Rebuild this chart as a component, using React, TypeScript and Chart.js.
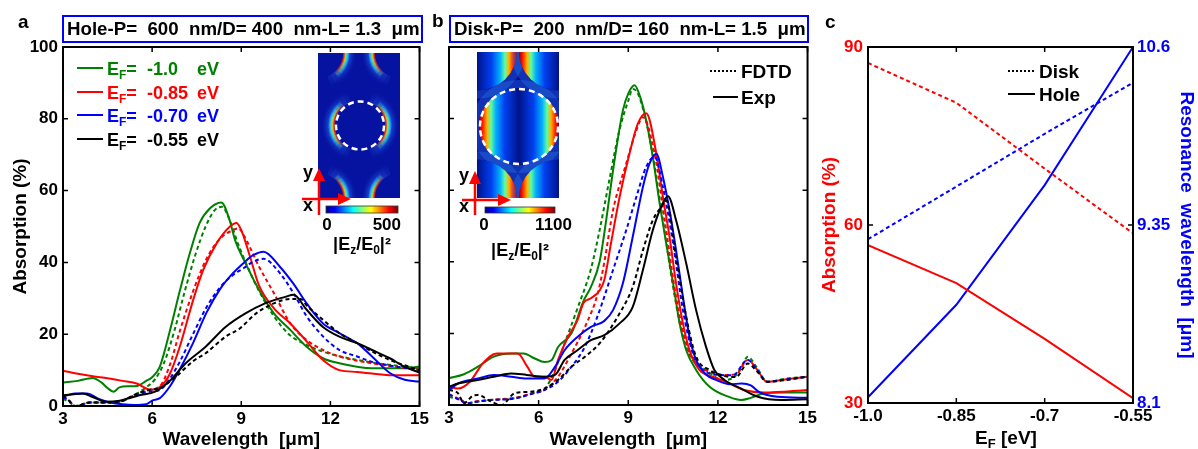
import React, { useEffect, useRef } from 'react';
import { Chart, registerables } from 'chart.js';
Chart.register(...registerables);

const FONT = "'Liberation Sans', Arial, Helvetica, sans-serif";
const GREEN = 'rgb(0,128,0)';
const RED = 'rgb(255,0,0)';
const BLUE = 'rgb(0,0,255)';
const BLACK = 'rgb(0,0,0)';

// ---------- shared ticks ----------
const WL_TICKS = [3, 6, 9, 12, 15];
const ABS_TICKS = [0, 20, 40, 60, 80, 100];

// ---------- panel a : hole array (Exp solid, FDTD dashed) ----------
const A_EXP_100 = [[3,6.5],[3.5,7],[4,7.8],[4.3,6.5],[4.5,5],[4.7,4],[4.9,5.2],[5.2,5.5],[5.5,5.6],[5.8,7],[6.0,8],[6.26,11],[6.6,21],[6.93,32],[7.27,42.6],[7.6,51],[7.94,55],[8.33,56.7],[8.6,52],[8.8,46],[9.1,40.5],[9.6,32.3],[10.1,25.8],[10.65,21.2],[11.2,16.5],[11.75,13.3],[12.3,11.9],[13.4,10.5],[14.5,10.5],[15,11]];
const A_FDTD_100 = [[3,2],[3.2,1.2],[3.4,0],[3.6,0.3],[3.9,1],[4.5,1],[4.9,1.2],[5.45,3.3],[5.8,5.2],[6.1,7.5],[6.4,12],[6.75,21],[7.1,32],[7.45,42],[7.8,50],[8.1,54.5],[8.35,55.5],[8.6,52],[8.9,45],[9.2,39],[9.6,32],[10.1,25],[10.6,20],[11.2,17],[11.8,15],[12.5,13.5],[13.5,12],[14.5,11],[15,10.5]];
const A_EXP_085 = [[3,9.8],[3.5,9],[4,8.3],[4.5,7.7],[5,7],[5.5,6.2],[5.95,4.5],[6.25,5.2],[6.6,9],[6.93,16.5],[7.38,29.5],[7.72,37.9],[8.17,45.3],[8.62,50],[8.84,51],[9.0,49],[9.28,42],[9.6,33.5],[10.1,27.2],[10.65,23],[11.2,18],[11.75,12.8],[12.3,10],[12.9,9.5],[14,8.6],[15,8.6]];
const A_FDTD_085 = [[3,2.5],[3.2,1.5],[3.4,0],[3.6,0.3],[3.9,1],[4.5,1],[4.9,1.2],[5.45,3],[5.9,4.5],[6.26,5.5],[6.6,11.5],[6.93,20.8],[7.38,32],[7.83,41],[8.28,46.6],[8.72,49],[8.9,49.5],[9.17,46.2],[9.6,38.8],[10.1,31.4],[10.65,23],[11.2,18.4],[11.75,15.6],[12.3,13.8],[13.4,11.9],[15,10]];
const A_EXP_070 = [[3,2.6],[3.4,3.5],[3.8,3.5],[4.2,2],[4.6,1],[5,0.5],[5.4,0.3],[5.8,0.5],[6.0,1.5],[6.26,2.2],[6.6,5.5],[6.93,10.2],[7.38,17.6],[7.83,26],[8.28,32.5],[8.72,37],[9.1,40],[9.4,42],[9.75,43],[10.3,38.8],[10.76,34],[11.2,28.6],[11.75,23],[12.3,20.3],[12.9,17.5],[13.4,13.8],[14,9.2],[14.5,7.3],[15,6.8]];
const A_FDTD_070 = [[3,2.5],[3.2,1.5],[3.4,0],[3.6,0.3],[3.9,1],[4.5,1],[4.9,1.2],[5.45,3],[5.9,4],[6.26,4.5],[6.6,7.7],[6.93,12.3],[7.38,20.1],[7.83,27.5],[8.28,33],[8.72,36.5],[9.1,38.5],[9.4,40.2],[9.75,41],[10.3,37],[10.76,31.4],[11.2,25],[11.75,19.4],[12.3,15.6],[12.9,13.8],[13.4,12.3],[15,10]];
const A_EXP_055 = [[3,3],[3.3,3.2],[3.67,3.5],[4.0,2.5],[4.45,1.2],[4.9,1.5],[5.57,3],[6.1,4],[6.57,6.8],[7.13,11.9],[7.8,16.5],[8.47,22],[9.14,25.8],[9.8,28.6],[10.48,30.4],[10.76,31],[11.2,26.8],[11.75,22],[12.3,19.3],[12.9,17.5],[13.4,15.6],[14,13.3],[14.5,10.9],[15,9.3]];
const A_FDTD_055 = [[3,3],[3.2,1.5],[3.4,0],[3.6,0.3],[3.9,1],[4.5,1],[4.9,1.2],[5.45,3.3],[5.9,4.5],[6.26,5],[6.8,8.2],[7.38,12.5],[7.8,14.7],[8.47,19.3],[8.95,21.6],[9.5,25.8],[10.1,28.6],[10.65,29.8],[11.0,29.8],[11.2,28],[11.75,24],[12.3,20.3],[12.9,17.5],[13.4,15.2],[14,12.8],[15,10]];

// ---------- panel b : disk array ----------
const B_EXP_100 = [[3,7.5],[3.5,8.6],[3.97,10.7],[4.5,13.5],[5.08,14.4],[5.5,14.4],[5.87,13],[6.2,12],[6.43,12.5],[6.65,16.2],[7.1,20],[7.5,29],[7.75,33],[8.04,40],[8.26,51.6],[8.49,65.5],[8.82,82.3],[9.0,87],[9.21,89.3],[9.4,86],[9.6,79.5],[9.82,69.3],[10.05,56.3],[10.27,45.1],[10.5,34],[10.72,22.8],[10.94,15.3],[11.27,9.8],[11.72,5.1],[12.39,2.2],[12.78,1.4],[13.1,2],[13.56,3.3],[14.2,3.5],[15,3.5]];
const B_FDTD_100 = [[3,2.3],[3.4,1.4],[3.6,0.5],[3.9,0.9],[4.5,1.5],[5.2,1.9],[5.8,3.3],[6.2,4.5],[6.55,9.8],[6.87,17.2],[7.3,27],[7.75,38],[8.04,48.8],[8.37,63],[8.71,77],[9.0,85],[9.15,88.3],[9.35,86.5],[9.71,74.8],[10.16,51.6],[10.5,33],[10.83,19],[11.16,12.6],[11.6,9.8],[12.16,7],[12.5,7.5],[12.75,10],[13.0,13.5],[13.3,10.5],[13.65,6.5],[14.3,7.4],[15,7.9]];
const B_EXP_085 = [[3,5.1],[3.3,4.6],[3.7,6.5],[4.13,11.6],[4.6,14.4],[5.08,14.4],[5.3,14.4],[5.62,10.7],[5.87,7.9],[6.2,7.9],[6.43,7],[6.65,12.6],[6.98,19],[7.3,23.7],[7.5,28.5],[7.75,29.8],[8.04,32],[8.2,35],[8.42,45.1],[8.71,58.1],[9.04,70.2],[9.32,78.6],[9.6,81.5],[9.94,70.2],[10.16,58.1],[10.38,47],[10.6,34],[10.83,22.8],[11.05,15.3],[11.38,9.8],[11.83,7.9],[12.39,6],[12.88,4.2],[13.56,3.5],[15,4.2]];
const B_FDTD_085 = [[3,3],[3.4,1.4],[3.6,0.5],[3.9,1],[4.5,1.5],[5.2,2],[5.8,3.3],[6.2,4.2],[6.65,7.9],[7.1,14.4],[7.55,21.8],[7.98,31.2],[8.2,40],[8.49,54.4],[8.93,67.4],[9.27,76.7],[9.49,80.4],[9.88,70.2],[10.27,48.8],[10.6,30.2],[10.94,17.2],[11.27,11.6],[11.72,9.3],[12.27,8.4],[12.6,8.5],[13.0,12.6],[13.3,10],[13.65,6.5],[14.3,7.2],[15,7.9]];
const B_EXP_070 = [[3,4.2],[3.3,6],[3.97,7.4],[4.5,8.4],[5.08,7.9],[5.6,7.4],[6.2,7.4],[6.55,10.7],[6.87,15.3],[7.3,19],[7.75,21.8],[8.2,23.5],[8.49,26.5],[8.82,34],[9.15,47],[9.49,60.9],[9.71,67.4],[9.94,70.2],[10.16,63.7],[10.38,54.4],[10.6,43.2],[10.83,30.2],[11.05,19],[11.27,12.6],[11.6,8.5],[11.94,7],[12.4,5.8],[12.8,6],[13.1,5.5],[13.4,3.5],[14,2.3],[15,2]];
const B_FDTD_070 = [[3,3],[3.4,1.2],[3.6,0.4],[3.9,0.9],[4.5,1.4],[5.2,1.8],[5.8,3.2],[6.2,4.2],[6.65,6.5],[7.1,10.7],[7.55,16.3],[7.98,25],[8.49,37.7],[8.93,48.8],[9.27,58.1],[9.6,66.5],[9.88,69.3],[10.16,60.9],[10.5,45.1],[10.83,26.5],[11.16,14.4],[11.5,9.8],[12.05,8.4],[12.5,8.3],[13.0,12.6],[13.3,10],[13.65,6.5],[14.3,7.2],[15,7.9]];
const B_EXP_055 = [[3,5.1],[3.3,6],[3.97,7],[4.5,7.9],[5.08,8.8],[5.6,8.4],[6.2,7.9],[6.55,8.4],[6.87,12.6],[7.3,15.3],[7.75,18.1],[8.2,19.5],[8.71,22.8],[9.15,27.4],[9.49,37.7],[9.82,48.8],[10.1,55.3],[10.33,58.3],[10.6,51.6],[10.94,39.5],[11.27,26.5],[11.6,16.3],[11.88,9.8],[12.22,7],[12.78,4.6],[13.34,2.3],[14.12,1.4],[15,1.6]];
const B_FDTD_055 = [[3,4.2],[3.3,3.3],[3.5,0.5],[3.8,2.6],[3.97,2.8],[4.4,1],[4.75,0],[5.2,3.3],[5.7,3.7],[6.2,4.6],[6.65,7],[7.1,10.7],[7.55,13.5],[8.04,17.2],[8.71,25.6],[9.15,33],[9.49,43.2],[9.82,51.6],[10.1,55.3],[10.27,57.2],[10.6,41.4],[10.94,24.6],[11.27,13.5],[11.72,9.8],[12.27,8],[12.6,7.8],[13.0,11.6],[13.3,9.5],[13.65,6.5],[14.3,7],[15,7.9]];

// ---------- panel c ----------
const EF_VALUES = [-1.0, -0.85, -0.7, -0.55];
const EF_TICK_LABELS = ['-1.0', '-0.85', '-0.7', '-0.55'];
const HOLE_ABS = [56.6, 50.2, 40.8, 30.8];
const DISK_ABS = [87.3, 80.6, 69.5, 58.6];
const HOLE_RES = [8.14, 8.79, 9.63, 10.6];
const DISK_RES = [9.25, 9.62, 9.99, 10.35];
const C_ABS_TICKS = [30, 60, 90];
const C_RES_TICKS = [8.1, 9.35, 10.6];

const LEGEND_A_VALUES = ['-1.0', '-0.85', '-0.70', '-0.55'];
const LEGEND_A_COLORS = [GREEN, RED, BLUE, BLACK];

// ---------- helpers ----------
const bold = (s: number) => `bold ${s}px ${FONT}`;

function drawRich(ctx: any, x: number, y: number, parts: any[], size: number, color: string, align = 'left') {
  const small = Math.round(size * 0.66);
  let total = 0;
  for (const p of parts) {
    ctx.font = bold(p[1] ? small : size);
    total += ctx.measureText(p[0]).width;
  }
  let cx = align === 'center' ? x - total / 2 : align === 'right' ? x - total : x;
  ctx.fillStyle = color;
  ctx.textAlign = 'left';
  ctx.textBaseline = 'alphabetic';
  for (const p of parts) {
    ctx.font = bold(p[1] ? small : size);
    ctx.fillText(p[0], cx, p[1] ? y + size * 0.22 : y);
    cx += ctx.measureText(p[0]).width;
  }
}

function drawFrame(chart: any, xTicks: number[], yTicks: number[], y2Ticks?: number[]) {
  const { ctx, chartArea } = chart;
  const { left, right, top, bottom } = chartArea;
  const xs = chart.scales.x;
  const ys = chart.scales.y;
  ctx.save();
  ctx.strokeStyle = '#000';
  ctx.lineWidth = 1.5;
  const L = 5;
  ctx.beginPath();
  for (const t of xTicks) {
    const px = xs.getPixelForValue(t);
    ctx.moveTo(px, bottom); ctx.lineTo(px, bottom - L);
    ctx.moveTo(px, top); ctx.lineTo(px, top + L);
  }
  for (const t of yTicks) {
    const py = ys.getPixelForValue(t);
    ctx.moveTo(left, py); ctx.lineTo(left + L, py);
    if (!y2Ticks) { ctx.moveTo(right, py); ctx.lineTo(right - L, py); }
  }
  if (y2Ticks) {
    const y2 = chart.scales.y2;
    for (const t of y2Ticks) {
      const py = y2.getPixelForValue(t);
      ctx.moveTo(right, py); ctx.lineTo(right - L, py);
    }
  }
  ctx.stroke();
  ctx.lineWidth = 2;
  ctx.strokeRect(left, top, right - left, bottom - top);
  ctx.restore();
}

function jetGradient(ctx: any, x0: number, x1: number) {
  const g = ctx.createLinearGradient(x0, 0, x1, 0);
  g.addColorStop(0, '#00008f');
  g.addColorStop(0.125, '#0000ff');
  g.addColorStop(0.375, '#00ffff');
  g.addColorStop(0.625, '#ffff00');
  g.addColorStop(0.875, '#ff0000');
  g.addColorStop(1, '#800000');
  return g;
}

function drawColorbarAndAxes(ctx: any, ox: number, bar: number[], maxLabel: string, maxRight: number, zeroX: number, labelY: number, arrow: any) {
  const [bx0, by0, bx1, by1] = bar.map((v, i) => (i % 2 === 0 ? v - ox : v));
  ctx.fillStyle = jetGradient(ctx, bx0, bx1);
  ctx.fillRect(bx0, by0, bx1 - bx0, by1 - by0);
  ctx.strokeStyle = '#333';
  ctx.lineWidth = 0.8;
  ctx.strokeRect(bx0, by0, bx1 - bx0, by1 - by0);
  ctx.fillStyle = '#000';
  ctx.font = bold(17);
  ctx.textBaseline = 'alphabetic';
  ctx.textAlign = 'center';
  ctx.fillText('0', zeroX - ox, 230);
  ctx.textAlign = 'right';
  ctx.fillText(maxLabel, maxRight - ox, 230);
  const cx = (bx0 + bx1) / 2;
  drawRich(ctx, cx, labelY, [['|E', 0], ['z', 1], ['/E', 0], ['0', 1], ['|²', 0]], 18, '#000', 'center');
  const { vx, vy0, vy1, hy, hx0, hx1 } = arrow;
  ctx.strokeStyle = 'rgb(255,0,0)';
  ctx.fillStyle = 'rgb(255,0,0)';
  ctx.lineWidth = 2.5;
  ctx.beginPath();
  ctx.moveTo(vx - ox, vy0); ctx.lineTo(vx - ox, vy1 + 10);
  ctx.moveTo(hx0 - ox, hy); ctx.lineTo(hx1 - ox - 10, hy);
  ctx.stroke();
  ctx.beginPath();
  ctx.moveTo(vx - ox, vy1); ctx.lineTo(vx - ox - 6, vy1 + 13); ctx.lineTo(vx - ox + 6, vy1 + 13); ctx.closePath();
  ctx.fill();
  ctx.beginPath();
  ctx.moveTo(hx1 - ox, hy); ctx.lineTo(hx1 - ox - 13, hy - 6); ctx.lineTo(hx1 - ox - 13, hy + 6); ctx.closePath();
  ctx.fill();
  ctx.fillStyle = '#000';
  ctx.font = bold(18);
  ctx.textAlign = 'left';
  ctx.fillText('y', vx - ox - 16, vy1 + 10);
  ctx.fillText('x', vx - ox - 16, hy + 12);
}

function sector(ctx: any, hx: number, hy: number, r0: number, r1: number, a0: number, span: number) {
  ctx.beginPath();
  ctx.arc(hx, hy, r1, a0 - span, a0 + span);
  ctx.arc(hx, hy, r0, a0 + span, a0 - span, true);
  ctx.closePath();
  ctx.fill();
}

function drawHoleInset(ctx: any, ox: number) {
  const rx = 318 - ox, ry = 53, rw = 82, rh = 145;
  const cx = 360 - ox, cy = 125.5, r = 25;
  const BG = 'rgb(6,18,160)';
  ctx.save();
  ctx.beginPath(); ctx.rect(rx, ry, rw, rh); ctx.clip();
  ctx.fillStyle = BG;
  ctx.fillRect(rx, ry, rw, rh);
  const centers = [[cx, cy], [rx, ry], [rx + rw, ry], [rx, ry + rh], [rx + rw, ry + rh]];
  for (const [hx, hy] of centers) {
    for (const a0 of [0, Math.PI]) {
      const g1 = ctx.createRadialGradient(hx, hy, r, hx, hy, r + 14);
      g1.addColorStop(0, 'rgb(60,150,255)');
      g1.addColorStop(0.5, 'rgb(30,90,230)');
      g1.addColorStop(1, 'rgba(6,18,160,0)');
      ctx.fillStyle = g1;
      ctx.globalAlpha = 0.13;
      for (let k = 0; k < 7; k++) sector(ctx, hx, hy, r, r + 14, a0, 0.35 + k * 0.14);
      const g2 = ctx.createRadialGradient(hx, hy, r, hx, hy, r + 7);
      g2.addColorStop(0, '#b00000');
      g2.addColorStop(0.15, '#ff2000');
      g2.addColorStop(0.35, '#ffd000');
      g2.addColorStop(0.55, '#40ffc0');
      g2.addColorStop(0.8, '#20a0ff');
      g2.addColorStop(1, 'rgba(30,100,255,0)');
      ctx.fillStyle = g2;
      ctx.globalAlpha = 0.3;
      for (let k = 0; k < 5; k++) sector(ctx, hx, hy, r, r + 7, a0, 0.3 + k * 0.14);
      ctx.globalAlpha = 1;
    }
    ctx.fillStyle = BG;
    ctx.beginPath(); ctx.arc(hx, hy, r, 0, Math.PI * 2); ctx.fill();
  }
  ctx.restore();
  ctx.save();
  ctx.strokeStyle = '#fff';
  ctx.lineWidth = 2.5;
  ctx.setLineDash([6, 4]);
  ctx.beginPath(); ctx.arc(cx, cy, r - 1, 0, Math.PI * 2); ctx.stroke();
  ctx.restore();
  ctx.save();
  drawColorbarAndAxes(ctx, ox, [326, 206, 398, 213], '500', 401, 327, 250,
    { vx: 319, vy0: 215, vy1: 168, hy: 199, hx0: 302, hx1: 351 });
  ctx.restore();
}

function drawDiskInset(ctx: any, ox: number) {
  const rx = 477 - ox, ry = 52, rw = 82, rh = 146;
  const cx = 519 - ox, cy = 126.5, erx = 40, ery = 38.5;
  ctx.save();
  ctx.beginPath(); ctx.rect(rx, ry, rw, rh); ctx.clip();
  ctx.fillStyle = 'rgb(4,14,150)';
  ctx.fillRect(rx, ry, rw, rh);
  const centers = [[cx, cy], [rx, ry], [rx + rw, ry], [rx, ry + rh], [rx + rw, ry + rh]];
  for (const [hx, hy] of centers) {
    ctx.save();
    ctx.strokeStyle = 'rgba(50,140,255,0.28)';
    ctx.lineWidth = 8;
    ctx.beginPath(); ctx.ellipse(hx, hy, erx + 4, ery + 4, 0, 0, Math.PI * 2); ctx.stroke();
    ctx.beginPath(); ctx.ellipse(hx, hy, erx, ery, 0, 0, Math.PI * 2); ctx.clip();
    const g = ctx.createLinearGradient(hx - erx, 0, hx + erx, 0);
    g.addColorStop(0, '#900000');
    g.addColorStop(0.04, '#ff1000');
    g.addColorStop(0.1, '#ffb000');
    g.addColorStop(0.15, '#60ffa0');
    g.addColorStop(0.21, '#00b0ff');
    g.addColorStop(0.32, '#0040f0');
    g.addColorStop(0.5, '#00128a');
    g.addColorStop(0.68, '#0040f0');
    g.addColorStop(0.79, '#00b0ff');
    g.addColorStop(0.85, '#60ffa0');
    g.addColorStop(0.9, '#ffb000');
    g.addColorStop(0.96, '#ff1000');
    g.addColorStop(1, '#900000');
    ctx.fillStyle = g;
    ctx.fillRect(hx - erx, hy - ery, erx * 2, ery * 2);
    ctx.restore();
  }
  ctx.restore();
  ctx.save();
  ctx.strokeStyle = '#fff';
  ctx.lineWidth = 2.5;
  ctx.setLineDash([6, 4]);
  ctx.beginPath(); ctx.ellipse(cx, cy, erx - 1, ery - 1, 0, 0, Math.PI * 2); ctx.stroke();
  ctx.restore();
  ctx.save();
  drawColorbarAndAxes(ctx, ox, [485, 207, 555, 213], '1100', 572, 484, 256,
    { vx: 475, vy0: 215, vy1: 171, hy: 200, hx0: 462, hx1: 511 });
  ctx.restore();
}

function line(data: number[][], color: string, dashed: boolean, yAxisID = 'y', smooth = true) {
  return {
    data: data.map(([x, y]) => ({ x, y })),
    borderColor: color,
    backgroundColor: color,
    borderWidth: 2,
    borderDash: dashed ? [4, 3] : [],
    pointRadius: 0,
    fill: false,
    yAxisID,
    cubicInterpolationMode: smooth ? 'monotone' : 'default',
    tension: 0,
  };
}

const tickFont = { family: FONT, size: 17, weight: 'bold' as const };
const titleFont = { family: FONT, size: 19, weight: 'bold' as const, lineHeight: 1 };

function spectraOptions(showYLabels: boolean, yWidth: number, padLeft: number, xHeight: number) {
  return {
    responsive: false,
    animation: false,
    devicePixelRatio: 1,
    layout: { padding: { top: 47, right: 12, left: padLeft, bottom: 0 } },
    plugins: { legend: { display: false }, tooltip: { enabled: false } },
    scales: {
      x: {
        type: 'linear', min: 3, max: 15,
        afterBuildTicks: (s: any) => { s.ticks = WL_TICKS.map((v) => ({ value: v })); },
        afterFit: (s: any) => { s.height = xHeight; },
        grid: { display: false, drawTicks: false },
        border: { display: false },
        ticks: { font: tickFont, color: '#000', padding: 3, maxRotation: 0 },
        title: { display: true, text: 'Wavelength  [μm]', font: titleFont, color: '#000', padding: { top: 0, bottom: 0 } },
      },
      y: {
        type: 'linear', min: 0, max: 100, display: showYLabels,
        afterBuildTicks: (s: any) => { s.ticks = ABS_TICKS.map((v) => ({ value: v })); },
        afterFit: (s: any) => { s.width = yWidth; },
        grid: { display: false, drawTicks: false },
        border: { display: false },
        ticks: { font: tickFont, color: '#000', padding: 5 },
        title: { display: true, text: 'Absorption (%)', font: titleFont, color: '#000', padding: { top: 11, bottom: 0 } },
      },
    },
  };
}

function PanelA() {
  const ref = useRef<HTMLCanvasElement | null>(null);
  useEffect(() => {
    const plugin = {
      id: 'panelA',
      afterDatasetsDraw(chart: any) {
        const ctx = chart.ctx;
        drawFrame(chart, WL_TICKS, ABS_TICKS);
        const rows = [68, 92, 115, 139];
        LEGEND_A_VALUES.forEach((v, i) => {
          const y = rows[i];
          const c = LEGEND_A_COLORS[i];
          ctx.save();
          ctx.strokeStyle = c; ctx.lineWidth = 2;
          ctx.beginPath(); ctx.moveTo(77, y); ctx.lineTo(103, y); ctx.stroke();
          drawRich(ctx, 107, y + 7, [['E', 0], ['F', 1], ['=', 0]], 18, c);
          ctx.font = bold(18);
          ctx.fillText(v, 147, y + 7);
          ctx.fillText('eV', 197, y + 7);
          ctx.restore();
        });
        drawHoleInset(ctx, 0);
      },
    };
    const chart = new Chart(ref.current as any, {
      type: 'line',
      data: {
        datasets: [
          line(A_FDTD_055, BLACK, true), line(A_EXP_055, BLACK, false),
          line(A_FDTD_070, BLUE, true), line(A_EXP_070, BLUE, false),
          line(A_FDTD_085, RED, true), line(A_EXP_085, RED, false),
          line(A_FDTD_100, GREEN, true), line(A_EXP_100, GREEN, false),
        ],
      },
      options: spectraOptions(true, 63, 0, 43) as any,
      plugins: [plugin],
    } as any);
    return () => chart.destroy();
  }, []);
  return <canvas ref={ref} width={432} height={449} style={{ position: 'absolute', left: 0, top: 0, width: 432, height: 449 }} />;
}

function PanelB() {
  const ref = useRef<HTMLCanvasElement | null>(null);
  useEffect(() => {
    const OX = 432;
    const plugin = {
      id: 'panelB',
      afterDatasetsDraw(chart: any) {
        const ctx = chart.ctx;
        drawFrame(chart, WL_TICKS, ABS_TICKS);
        ctx.save();
        ctx.strokeStyle = '#000'; ctx.lineWidth = 2;
        ctx.setLineDash([2, 2]);
        ctx.beginPath(); ctx.moveTo(710 - OX, 71); ctx.lineTo(737 - OX, 71); ctx.stroke();
        ctx.setLineDash([]);
        ctx.beginPath(); ctx.moveTo(713 - OX, 97); ctx.lineTo(738 - OX, 97); ctx.stroke();
        ctx.fillStyle = '#000'; ctx.font = bold(19); ctx.textAlign = 'left'; ctx.textBaseline = 'alphabetic';
        ctx.fillText('FDTD', 741 - OX, 78);
        ctx.fillText('Exp', 741 - OX, 104);
        ctx.restore();
        drawDiskInset(ctx, OX);
      },
    };
    const chart = new Chart(ref.current as any, {
      type: 'line',
      data: {
        datasets: [
          line(B_FDTD_055, BLACK, true), line(B_EXP_055, BLACK, false),
          line(B_FDTD_070, BLUE, true), line(B_EXP_070, BLUE, false),
          line(B_FDTD_085, RED, true), line(B_EXP_085, RED, false),
          line(B_FDTD_100, GREEN, true), line(B_EXP_100, GREEN, false),
        ],
      },
      options: spectraOptions(false, 0, 17, 44) as any,
      plugins: [plugin],
    } as any);
    return () => chart.destroy();
  }, []);
  return <canvas ref={ref} width={388} height={449} style={{ position: 'absolute', left: 432, top: 0, width: 388, height: 449 }} />;
}

function PanelC() {
  const ref = useRef<HTMLCanvasElement | null>(null);
  useEffect(() => {
    const OX = 820;
    const plugin = {
      id: 'panelC',
      afterDatasetsDraw(chart: any) {
        const ctx = chart.ctx;
        drawFrame(chart, EF_VALUES, C_ABS_TICKS, C_RES_TICKS);
        ctx.save();
        ctx.strokeStyle = '#000'; ctx.lineWidth = 2;
        ctx.setLineDash([2, 2]);
        ctx.beginPath(); ctx.moveTo(1008 - OX, 71); ctx.lineTo(1035 - OX, 71); ctx.stroke();
        ctx.setLineDash([]);
        ctx.beginPath(); ctx.moveTo(1008 - OX, 94); ctx.lineTo(1035 - OX, 94); ctx.stroke();
        ctx.fillStyle = '#000'; ctx.font = bold(19); ctx.textAlign = 'left'; ctx.textBaseline = 'alphabetic';
        ctx.fillText('Disk', 1039 - OX, 78);
        ctx.fillText('Hole', 1039 - OX, 101);
        drawRich(ctx, 1006 - OX, 444, [['E', 0], ['F', 1], [' [eV]', 0]], 19, '#000', 'center');
        ctx.restore();
      },
    };
    const pts = (ys: number[]) => EF_VALUES.map((x, i) => [x, ys[i]]);
    const chart = new Chart(ref.current as any, {
      type: 'line',
      data: {
        datasets: [
          line(pts(DISK_ABS), RED, true, 'y', false),
          line(pts(HOLE_ABS), RED, false, 'y', false),
          line(pts(DISK_RES), BLUE, true, 'y2', false),
          line(pts(HOLE_RES), BLUE, false, 'y2', false),
        ],
      },
      options: {
        responsive: false,
        animation: false,
        devicePixelRatio: 1,
        layout: { padding: { top: 47, right: 0, left: 0, bottom: 0 } },
        plugins: { legend: { display: false }, tooltip: { enabled: false } },
        scales: {
          x: {
            type: 'linear', min: -1.0, max: -0.55,
            afterBuildTicks: (s: any) => { s.ticks = EF_VALUES.map((v) => ({ value: v })); },
            afterFit: (s: any) => { s.height = 46; },
            grid: { display: false, drawTicks: false },
            border: { display: false },
            ticks: {
              font: tickFont, color: '#000', padding: 3, maxRotation: 0,
              callback: (v: any) => { const i = EF_VALUES.findIndex((e) => Math.abs(e - v) < 1e-6); return i >= 0 ? EF_TICK_LABELS[i] : ''; },
            },
          },
          y: {
            type: 'linear', position: 'left', min: 30, max: 90,
            afterBuildTicks: (s: any) => { s.ticks = C_ABS_TICKS.map((v) => ({ value: v })); },
            afterFit: (s: any) => { s.width = 48; },
            grid: { display: false, drawTicks: false },
            border: { display: false },
            ticks: { font: tickFont, color: RED, padding: 5 },
            title: { display: true, text: 'Absorption (%)', font: titleFont, color: RED, padding: { top: 0, bottom: 0 } },
          },
          y2: {
            type: 'linear', position: 'right', min: 8.1, max: 10.6,
            afterBuildTicks: (s: any) => { s.ticks = C_RES_TICKS.map((v) => ({ value: v })); },
            afterFit: (s: any) => { s.width = 65; },
            grid: { display: false, drawTicks: false },
            border: { display: false },
            ticks: { font: tickFont, color: BLUE, padding: 4, callback: (v: any) => String(v) },
            title: { display: true, text: 'Resonance  wavelength  [μm]', font: { ...titleFont, lineHeight: 1.2 }, color: BLUE, padding: { top: 0, bottom: 0 } },
          },
        },
      } as any,
      plugins: [plugin],
    } as any);
    return () => chart.destroy();
  }, []);
  return <canvas ref={ref} width={378} height={449} style={{ position: 'absolute', left: 820, top: 0, width: 378, height: 449 }} />;
}

const boxStyle = (left: number, width: number): React.CSSProperties => ({
  position: 'absolute', left, top: 15, width, height: 28, boxSizing: 'border-box',
  border: '2px solid rgb(0,0,255)', fontFamily: FONT, fontWeight: 'bold', fontSize: 18.7,
  lineHeight: '24px', whiteSpace: 'pre', paddingLeft: 3, color: '#000', overflow: 'hidden',
});
const letterStyle = (left: number, top: number): React.CSSProperties => ({
  position: 'absolute', left, top, fontFamily: FONT, fontWeight: 'bold', fontSize: 19, lineHeight: '19px', color: '#000',
});

export default function App() {
  useEffect(() => { document.body.style.margin = '0'; }, []);
  return (
    <div style={{ position: 'relative', width: 1198, height: 449, background: '#fff', overflow: 'hidden' }}>
      <PanelA />
      <PanelB />
      <PanelC />
      <div style={letterStyle(18, 12)}>a</div>
      <div style={letterStyle(432, 11)}>b</div>
      <div style={letterStyle(825, 12)}>c</div>
      <div style={boxStyle(62, 361)}>{'Hole-P=  600  nm/D= 400  nm-L= 1.3  μm'}</div>
      <div style={boxStyle(449, 360)}>{'Disk-P=  200  nm/D= 160  nm-L= 1.5  μm'}</div>
    </div>
  );
}
